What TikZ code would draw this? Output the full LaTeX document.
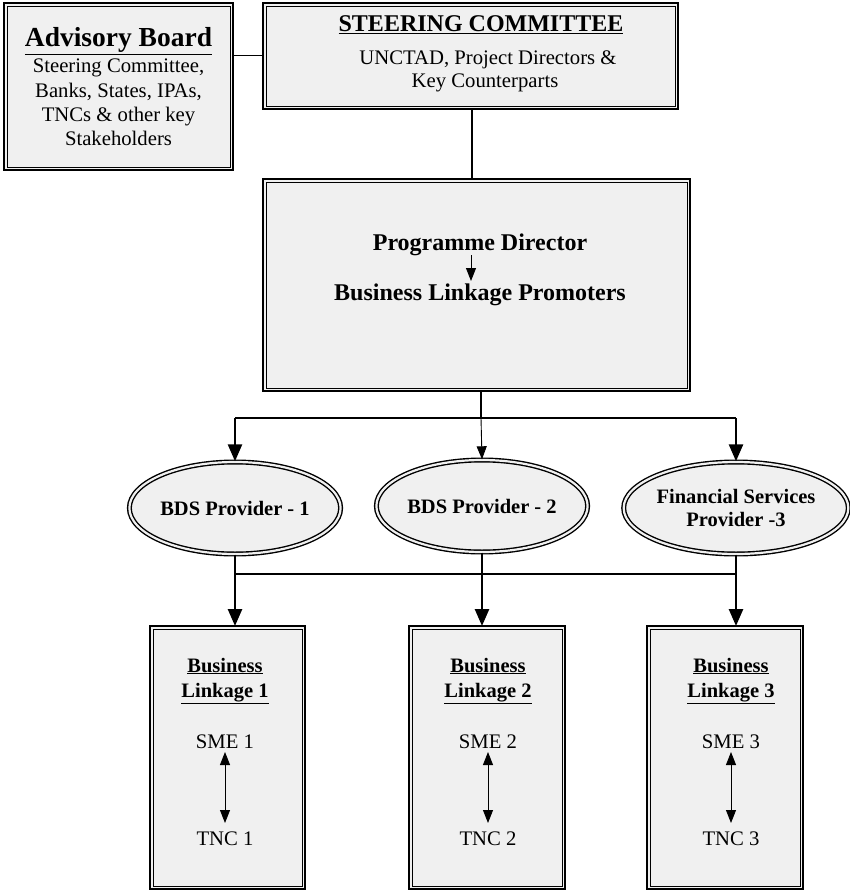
\documentclass[tikz,border=0pt]{standalone}
\usepackage{fontspec}
\setmainfont{Liberation Serif}
\usetikzlibrary{shapes.geometric,arrows.meta,calc}
\tikzset{
  boxfill/.style={fill=black!6},
  outerline/.style={line width=1.6pt},
  innerline/.style={line width=0.6pt},
  thickconn/.style={line width=2.6pt},
  thinconn/.style={line width=0.9pt},
  bigtip/.style={-{Triangle[length=17pt,width=14pt]}},
  smalltip/.style={-{Triangle[length=13pt,width=10pt]}},
  dbltip/.style={{Triangle[length=13pt,width=10pt]}-{Triangle[length=13pt,width=10pt]}},
  reg/.style={font=\fontsize{20.7}{23.3}\selectfont, inner sep=0pt, anchor=base},
  bld/.style={font=\bfseries\fontsize{24}{27}\selectfont, inner sep=0pt, anchor=base},
  bldsm/.style={font=\bfseries\fontsize{20.5}{24}\selectfont, inner sep=0pt, anchor=base},
  ell/.style={ellipse, draw, boxfill, line width=1.4pt, double=black!6, double distance=2.2pt, inner sep=0pt, minimum width=#1, minimum height=92pt, font=\bfseries\fontsize{20.5}{23.5}\selectfont, align=center},
}
\newcommand{\dblbox}[5]{% name, x1,y1,x2,y2
  \draw[outerline, boxfill] (#2,#3) rectangle (#4,#5);
  \draw[innerline] ($(#2,#3)+(3.2,3.2)$) rectangle ($(#4,#5)+(-3.2,-3.2)$);
}
\begin{document}
\begin{tikzpicture}[x=1pt,y=-1pt]
\useasboundingbox (0,0) rectangle (849,891);
% boxes
\dblbox{adv}{4}{3}{233}{170}
\dblbox{steer}{263}{3}{678}{109}
\dblbox{prog}{263}{179}{690}{391}
\dblbox{bl1}{150}{626}{305}{889}
\dblbox{bl2}{409}{626}{565}{889}
\dblbox{bl3}{647}{626}{803}{889}
\coordinate (advE) at (233,55);
\coordinate (steerW) at (263,55);
\draw[thinconn] (advE) -- (steerW);
% Advisory text
\node[bld, font=\bfseries\fontsize{27.5}{30}\selectfont] (advT) at (118.5,47) {\underline{Advisory Board}};
\node[reg] (adv1) at (118.5,73) {Steering Committee,};
\node[reg] (adv2) at (118.5,97) {Banks, States, IPAs,};
\node[reg] (adv3) at (118.5,121) {TNCs \& other key};
\node[reg] (adv4) at (118.5,145) {Stakeholders};
% Steering text
\node[bld] (stT) at (481,32) {\underline{STEERING COMMITTEE}};
\node[reg] (st1) at (488,65) {UNCTAD, Project Directors \&};
\node[reg] (st2) at (485,88) {Key Counterparts};
% Programme text
\node[bld] (pd) at (480,250) {Programme Director};
\node[bld] (blp) at (480,300) {Business Linkage Promoters};
\coordinate (pdA) at (471,255);
\coordinate (pdB) at (471,281);
\draw[thinconn, smalltip] (pdA) -- (pdB);
% steering to programme
\coordinate (stS) at (472,109);
\coordinate (prN) at (472,179);
\draw[thickconn] (stS) -- (prN);
% ellipses
\node[ell=184pt] (e1) at (235,508) {BDS Provider - 1};
\node[ell=184pt] (e2) at (482,506) {BDS Provider - 2};
\node[ell=184pt] (e3) at (736,508) {Financial Services\\Provider -3};
% branch 1
\coordinate (prS) at (481,391);
\coordinate (j1) at (481,418);
\coordinate (j1l) at (235,418);
\coordinate (j1r) at (736,418);
\draw[thickconn] (prS) -- (j1);
\draw[thickconn] (j1l) -- (j1r);
\draw[thickconn, bigtip] (j1l) -- (e1.north);
\draw[thinconn, smalltip] (j1) -- (e2.north);
\draw[thickconn, bigtip] (j1r) -- (e3.north);
% branch 2
\coordinate (j2l) at (235,574);
\coordinate (j2m) at (482,574);
\coordinate (j2r) at (736,574);
\draw[thickconn] (e1.south) -- (j2l);
\draw[thickconn] (e2.south) -- (j2m);
\draw[thickconn] (e3.south) -- (j2r);
\draw[thickconn] (j2l) -- (j2r);
\coordinate (bl1n) at (235,626);
\coordinate (bl2n) at (482,626);
\coordinate (bl3n) at (736,626);
\draw[thickconn, bigtip] (j2l) -- (bl1n);
\draw[thickconn, bigtip] (j2m) -- (bl2n);
\draw[thickconn, bigtip] (j2r) -- (bl3n);
% bottom boxes text
\foreach \i/\x in {1/225,2/488,3/731}{
  \node[bldsm] (bla\i) at (\x,672) {\underline{Business}};
  \node[bldsm] (blb\i) at (\x,697) {\underline{Linkage \i}};
  \node[reg] (sme\i) at (\x,748) {SME \i};
  \node[reg] (tnc\i) at (\x,845) {TNC \i};
  \coordinate (sa\i) at (\x,752);
  \coordinate (sb\i) at (\x,823);
  \draw[thinconn, dbltip] (sa\i) -- (sb\i);
}
\end{tikzpicture}
\end{document}
